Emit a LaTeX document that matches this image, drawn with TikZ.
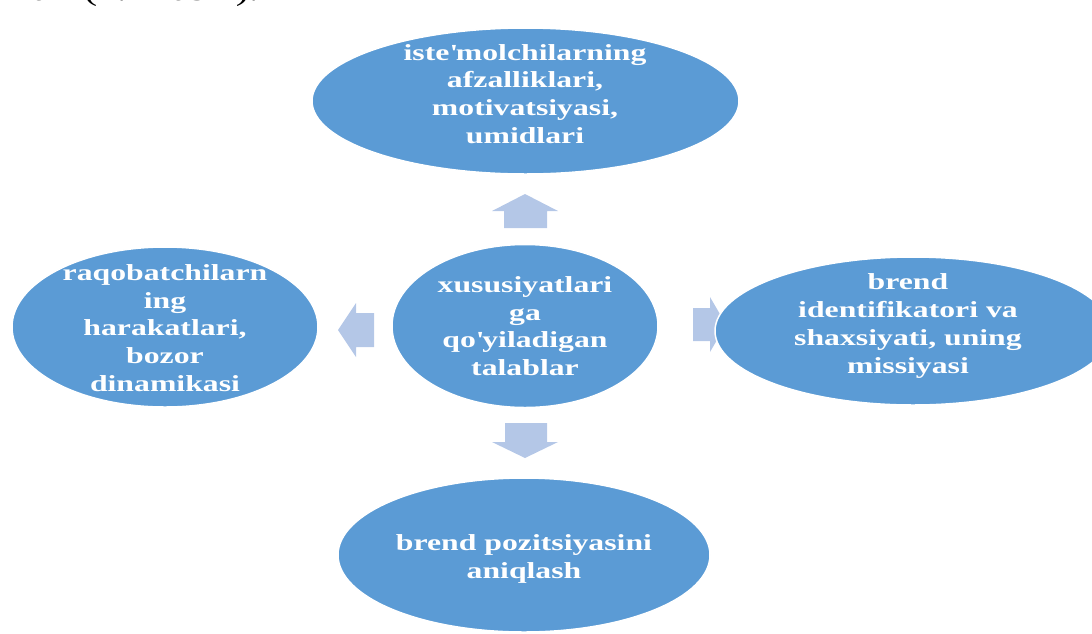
\documentclass[tikz,border=0pt]{standalone}
\usepackage{fontspec}
\newfontfamily\diagfont[FakeStretch=1.38]{Liberation Serif}
\usetikzlibrary{shapes.geometric}
\definecolor{ellblue}{HTML}{5B9BD5}
\definecolor{arrblue}{HTML}{B4C7E7}
\begin{document}
\begin{tikzpicture}[x=1pt,y=-1pt,
  bubble/.style={ellipse, fill=ellblue, draw=white, line width=1.5pt, inner sep=0pt},
  bubbletext/.style={inner sep=0pt, text=white, align=center,
    font=\diagfont\bfseries\fontsize{23}{27.7}\selectfont},
  blockarrow/.style={fill=arrblue}]
\useasboundingbox (0,0) rectangle (1092,633);
\clip (0,0) rectangle (1092,633);

% caption remnant at top
\node[anchor=base east, inner sep=0pt, font=\diagfont\fontsize{28.5}{34}\selectfont] (cap) at (259,0) {lari (4.2-rasm).};

% block arrows
\fill[blockarrow] (525,194) -- (558,211) -- (547,211) -- (547,228) -- (504,228) -- (504,211) -- (492,211) -- cycle;
\fill[blockarrow] (525,458) -- (558,442) -- (547,442) -- (547,423) -- (505,423) -- (505,442) -- (492,442) -- cycle;
\fill[blockarrow] (338,330) -- (356,303) -- (356,313) -- (374,313) -- (374,347) -- (356,347) -- (356,357) -- cycle;
\fill[blockarrow] (726,324.5) -- (710,297) -- (710,308) -- (693,308) -- (693,341) -- (710,341) -- (710,352) -- cycle;

% ellipses
\node[bubble, minimum width=427pt, minimum height=146pt] (top) at (525.5,101) {};
\node[bubble, minimum width=266pt, minimum height=163pt] (mid) at (525,326) {};
\node[bubble, minimum width=306pt, minimum height=160pt] (left) at (165,327) {};
\node[bubble, minimum width=396pt, minimum height=148pt] (right) at (913,331) {};
\node[bubble, minimum width=372pt, minimum height=154pt] (bottom) at (524,555) {};

% texts
\node[bubbletext] (toptext) at (525,94) {iste\textquotesingle molchilarning\\afzalliklari,\\motivatsiyasi,\\umidlari};
\node[bubbletext] (midtext) at (525,326) {xususiyatlari\\ga\\qo\textquotesingle yiladigan\\talablar};
\node[bubbletext] (lefttext) at (165,328) {raqobatchilarn\\ing\\harakatlari,\\bozor\\dinamikasi};
\node[bubbletext] (righttext) at (908,326) {brend\\identifikatori va\\shaxsiyati, uning\\missiyasi};
\node[bubbletext] (bottomtext) at (524,559) {brend pozitsiyasini\\aniqlash};
\end{tikzpicture}
\end{document}
